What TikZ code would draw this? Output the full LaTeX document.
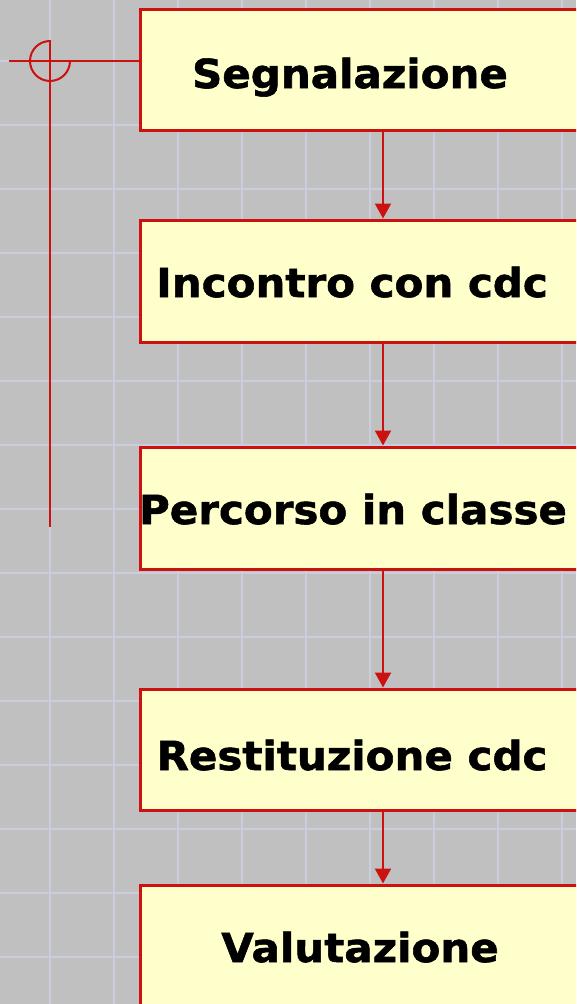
\documentclass[tikz,border=0pt]{standalone}
\usepackage{fontspec}
\setmainfont{DejaVu Sans}
\newfontfamily\labelfont{DejaVu Sans Bold}[FakeStretch=1.05, FakeBold=1.4]
\usepackage{tikz}
\usetikzlibrary{arrows.meta}

\definecolor{paper}{HTML}{C0C0C0}
\definecolor{gridline}{HTML}{CACDDE}
\definecolor{boxfill}{HTML}{FFFFCC}
\definecolor{boxred}{HTML}{CC1111}

\tikzset{
    stepbox/.style={draw=boxred, line width=3pt, fill=boxfill, minimum width=486pt, inner sep=0pt},
    steplabel/.style={anchor=base, font=\labelfont\fontsize{40}{42}\selectfont, inner sep=0pt},
    flow/.style={boxred, line width=2.2pt, -{Triangle[width=16pt, length=15pt]}},
    mark line/.style={boxred, line width=2pt}
}

\begin{document}
\begin{tikzpicture}[x=1pt, y=-1pt]
    \useasboundingbox (0, 0) rectangle (576, 1004);
    \clip (0, 0) rectangle (576, 1004);

    % Background and grid
    \fill[paper] (0, 0) rectangle (576, 1004);
    \foreach \gx in {-14, 50, ..., 562} {
        \draw[gridline, line width=2pt] (\gx, 0) -- (\gx, 1004);
    }
    \foreach \gy in {61, 125, ..., 957} {
        \draw[gridline, line width=2pt] (0, \gy) -- (576, \gy);
    }

    % The steps
    \node[stepbox, minimum height=121pt] (segnalazione) at (383, 69.5) {};
    \node[stepbox, minimum height=122pt] (incontro) at (383, 281) {};
    \node[stepbox, minimum height=122pt] (percorso) at (383, 508) {};
    \node[stepbox, minimum height=121pt] (restituzione) at (383, 749.5) {};
    \node[stepbox, minimum height=122pt] (valutazione) at (383, 946) {};

    \node[steplabel] (lsegnalazione) at (350, 88) {Segnalazione};
    \node[steplabel] (lincontro) at (352, 297) {Incontro con cdc};
    \node[steplabel] (lpercorso) at (353, 524) {Percorso in classe};
    \node[steplabel] (lrestituzione) at (352, 770) {Restituzione cdc};
    \node[steplabel] (lvalutazione) at (360, 962) {Valutazione};

    % Arrows between the steps
    \draw[flow] (segnalazione) -- (incontro);
    \draw[flow] (incontro) -- (percorso);
    \draw[flow] (percorso) -- (restituzione);
    \draw[flow] (restituzione) -- (valutazione);

    % The mark on the left
    \coordinate (tick) at (9, 61);
    \coordinate (marktop) at (50, 40);
    \coordinate (markend) at (50, 527);
    \draw[mark line] (tick) -- (tick -| segnalazione.west);
    \draw[mark line] (marktop) -- (markend);
    \draw[mark line] (50, 41) arc[start angle=-90, end angle=-360, radius=20];
\end{tikzpicture}
\end{document}
